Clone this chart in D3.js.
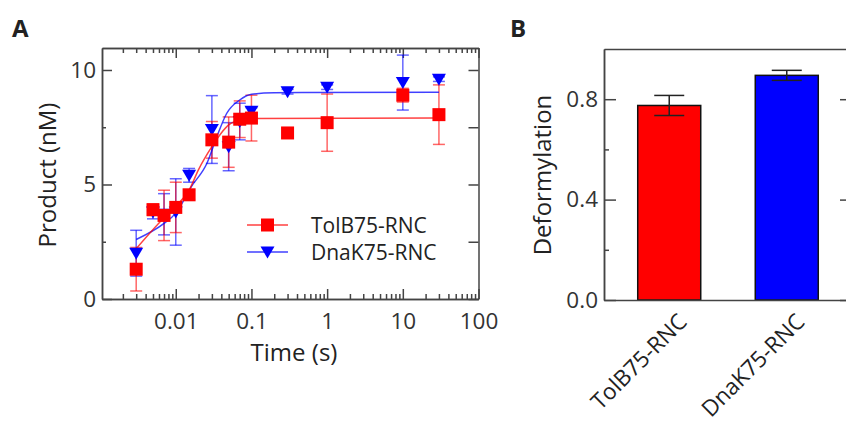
<!DOCTYPE html>
<html>
<head>
<meta charset="utf-8">
<script src="https://cdn.jsdelivr.net/npm/d3@7"></script>
<style>
body { margin: 0; background: #fff; }
text { font-family: "Open Sans", sans-serif; fill: #222; }
.axis path, .axis line { stroke: #444; stroke-width: 1.5; }
.axis text { font-size: 22.5px; fill: #333; }
</style>
</head>
<body>
<script>
// panel A data
var times = [0.003, 0.005, 0.007, 0.01, 0.015, 0.03, 0.05, 0.07, 0.1, 0.3, 1, 10, 30];
var tolbValues = [1.3, 3.9, 3.65, 4.0, 4.55, 6.95, 6.85, 7.85, 7.9, 7.25, 7.7, 8.9, 8.05];
var tolbErrors = [0.95, 0.25, 1.1, 1.1, 0.2, 0.8, 1.1, 0.8, 1.0, 0.2, 1.25, 0.3, 1.3];
var dnakValues = [2.0, 3.8, 3.7, 3.8, 5.4, 7.4, 6.65, 7.75, 8.2, 9.05, 9.25, 9.45, 9.6];
var dnakErrors = [1.0, 0.3, 0.9, 1.45, 0.3, 1.48, 1.05, 0.8, 0.15, 0.1, 0.1, 1.2, 0.1];

// fit curves
var tolbFitTimes = [0.003, 0.007, 0.01, 0.015, 0.02, 0.03, 0.04, 0.05, 0.07, 0.1, 30];
var tolbFitValues = [2.2, 3.55, 4.05, 4.75, 5.65, 6.65, 7.25, 7.6, 7.82, 7.88, 7.9];
var dnakFitTimes = [0.003, 0.007, 0.01, 0.016, 0.026, 0.035, 0.047, 0.07, 0.1, 0.2, 30];
var dnakFitValues = [2.6, 3.3, 3.75, 4.9, 5.95, 7.1, 8.1, 8.69, 8.94, 9.01, 9.03];

var xTicks = [0.01, 0.1, 1, 10, 100];
var xTickLabels = ["0.01", "0.1", "1", "10", "100"];
var yTicks = [0, 5, 10];
var yMinorTicks = [2.5, 7.5];
var seriesNames = ["TolB75-RNC", "DnaK75-RNC"];

// panel B data
var barLabels = ["TolB75-RNC", "DnaK75-RNC"];
var barValues = [0.775, 0.895];
var barErrors = [0.04, 0.02];
var barColors = ["#ff0000", "#0000ff"];
var bTicks = [0, 0.4, 0.8];
var bMinorTicks = [0.2, 0.6];

var w = 846, h = 422;
var svg = d3.select("body").append("svg").attr("width", w).attr("height", h);

//// panel A
var x = d3.scaleLog().domain([0.00106, 100]).range([102, 478.5]);
var y = d3.scaleLinear().domain([0, 10.96]).range([299, 48]);

var minorX = [];
[0.001, 0.01, 0.1, 1, 10].forEach(function(d) {
    for (var k = 2; k <= 9; k++) {
        if (d * k > 0.00106) minorX.push(d * k);
    }
});

var gA = svg.append("g");

gA.append("g").attr("class", "axis").attr("transform", "translate(0,299)")
    .call(d3.axisBottom(x).tickValues(xTicks).tickSizeInner(-10).tickSizeOuter(0).tickPadding(14)
        .tickFormat(function(d, i) { return xTickLabels[i]; }));
gA.append("g").attr("class", "axis").attr("transform", "translate(0,299)")
    .call(d3.axisBottom(x).tickValues(minorX).tickSizeInner(-5).tickSizeOuter(0).tickFormat(""));
gA.append("g").attr("class", "axis").attr("transform", "translate(0,48)")
    .call(d3.axisTop(x).tickValues(xTicks).tickSizeInner(-10).tickSizeOuter(0).tickFormat(""));
gA.append("g").attr("class", "axis").attr("transform", "translate(0,48)")
    .call(d3.axisTop(x).tickValues(minorX).tickSizeInner(-5).tickSizeOuter(0).tickFormat(""));
gA.append("g").attr("class", "axis").attr("transform", "translate(102,0)")
    .call(d3.axisLeft(y).tickValues(yTicks).tickSizeInner(-10).tickSizeOuter(0).tickPadding(6));
gA.append("g").attr("class", "axis").attr("transform", "translate(102,0)")
    .call(d3.axisLeft(y).tickValues(yMinorTicks).tickSizeInner(-4).tickSizeOuter(0).tickFormat(""));
gA.append("g").attr("class", "axis").attr("transform", "translate(478.5,0)")
    .call(d3.axisRight(y).tickValues(yTicks.concat(yMinorTicks)).tickSizeInner(-10).tickSizeOuter(0).tickFormat(""));

var line = d3.line()
    .x(function(d) { return x(d[0]); })
    .y(function(d) { return y(d[1]); })
    .curve(d3.curveMonotoneX);

var series = [
    { name: seriesNames[0], vals: tolbValues, errs: tolbErrors, fitT: tolbFitTimes, fitV: tolbFitValues, color: "#ff0000", shape: "square" },
    { name: seriesNames[1], vals: dnakValues, errs: dnakErrors, fitT: dnakFitTimes, fitV: dnakFitValues, color: "#0000ff", shape: "tri" }
];

function marker(g, shape, color) {
    if (shape == "square") {
        g.append("rect").attr("x", -6.5).attr("y", -6.5).attr("width", 13).attr("height", 13).attr("fill", color);
    } else {
        g.append("path").attr("d", "M-7,-5.5L7,-5.5L0,6.5Z").attr("fill", color);
    }
}

// error bars first, then lines, then markers (blue under red)
series.slice().reverse().forEach(function(s) {
    var eg = gA.append("g").attr("stroke", s.color).attr("stroke-opacity", 0.6).attr("stroke-width", 1.5);
    times.forEach(function(t, i) {
        var cx = x(t), lo = y(s.vals[i] - s.errs[i]), hi = y(s.vals[i] + s.errs[i]);
        eg.append("line").attr("x1", cx).attr("x2", cx).attr("y1", lo).attr("y2", hi);
        eg.append("line").attr("x1", cx - 6).attr("x2", cx + 6).attr("y1", lo).attr("y2", lo);
        eg.append("line").attr("x1", cx - 6).attr("x2", cx + 6).attr("y1", hi).attr("y2", hi);
    });
});
series.slice().reverse().forEach(function(s) {
    gA.append("path")
        .datum(s.fitT.map(function(t, i) { return [t, s.fitV[i]]; }))
        .attr("d", line)
        .attr("fill", "none")
        .attr("stroke", s.color)
        .attr("stroke-opacity", 0.75)
        .attr("stroke-width", 1.5);
});
series.slice().reverse().forEach(function(s) {
    times.forEach(function(t, i) {
        var g = gA.append("g").attr("transform", "translate(" + x(t) + "," + y(s.vals[i]) + ")");
        marker(g, s.shape, s.color);
    });
});

// legend
series.forEach(function(s, i) {
    var ly = 225 + i * 27;
    gA.append("line").attr("x1", 247).attr("x2", 288).attr("y1", ly).attr("y2", ly)
        .attr("stroke", s.color).attr("stroke-opacity", 0.75).attr("stroke-width", 1.5);
    var g = gA.append("g").attr("transform", "translate(267.5," + ly + ")");
    marker(g, s.shape, s.color);
    gA.append("text").attr("x", 311).attr("y", ly + 7.5).style("font-size", "21px").text(s.name);
});

gA.append("text").attr("x", 294).attr("y", 361).attr("text-anchor", "middle")
    .style("font-size", "24px").text("Time (s)");
gA.append("text").attr("transform", "translate(56,175) rotate(-90)").attr("text-anchor", "middle")
    .style("font-size", "24px").text("Product (nM)");
gA.append("text").attr("x", 12).attr("y", 37).style("font-size", "24px").style("font-weight", "bold").text("A");

//// panel B
var xb = d3.scaleBand().domain(barLabels).range([604, 852]).paddingInner(0.464).paddingOuter(0.287);
var yb = d3.scaleLinear().domain([0, 1.0]).range([300, 49]);
var gB = svg.append("g");

gB.selectAll(".bar").data(barValues).enter().append("rect")
    .attr("class", "bar")
    .attr("x", function(d, i) { return xb(barLabels[i]); })
    .attr("y", function(d) { return yb(d); })
    .attr("width", xb.bandwidth())
    .attr("height", function(d) { return yb(0) - yb(d); })
    .attr("fill", function(d, i) { return barColors[i]; })
    .attr("stroke", "#111")
    .attr("stroke-width", 1.5);

barValues.forEach(function(v, i) {
    var cx = xb(barLabels[i]) + xb.bandwidth() / 2;
    var lo = yb(v - barErrors[i]), hi = yb(v + barErrors[i]);
    var eg = gB.append("g").attr("stroke", "#222").attr("stroke-width", 1.5);
    eg.append("line").attr("x1", cx).attr("x2", cx).attr("y1", lo).attr("y2", hi);
    eg.append("line").attr("x1", cx - 15).attr("x2", cx + 15).attr("y1", lo).attr("y2", lo);
    eg.append("line").attr("x1", cx - 15).attr("x2", cx + 15).attr("y1", hi).attr("y2", hi);
});

gB.append("g").attr("class", "axis").attr("transform", "translate(604,0)")
    .call(d3.axisLeft(yb).tickValues(bTicks).tickSizeInner(-12).tickSizeOuter(0).tickPadding(6)
        .tickFormat(d3.format(".1f")));
gB.append("g").attr("class", "axis").attr("transform", "translate(604,0)")
    .call(d3.axisLeft(yb).tickValues(bMinorTicks).tickSizeInner(-5).tickSizeOuter(0).tickFormat(""));
gB.append("g").attr("class", "axis").attr("transform", "translate(852,0)")
    .call(d3.axisRight(yb).tickValues(bTicks).tickSizeInner(-12).tickSizeOuter(0).tickFormat(""));
gB.append("g").attr("class", "axis").attr("transform", "translate(0,300)")
    .call(d3.axisBottom(xb).tickSize(0).tickFormat(""));
gB.append("g").attr("class", "axis").attr("transform", "translate(0,49)")
    .call(d3.axisTop(xb).tickSize(0).tickFormat(""));

barLabels.forEach(function(lab, i) {
    var cx = xb(lab) + xb.bandwidth() / 2;
    gB.append("text")
        .attr("transform", "translate(" + (cx + 8) + ",312) rotate(-45)")
        .attr("text-anchor", "end")
        .attr("dy", "0.7em")
        .style("font-size", "22.5px")
        .text(lab);
});

gB.append("text").attr("transform", "translate(551,175) rotate(-90)").attr("text-anchor", "middle")
    .style("font-size", "24px").text("Deformylation");
gB.append("text").attr("x", 510).attr("y", 37).style("font-size", "24px").style("font-weight", "bold").text("B");
</script>
</body>
</html>
